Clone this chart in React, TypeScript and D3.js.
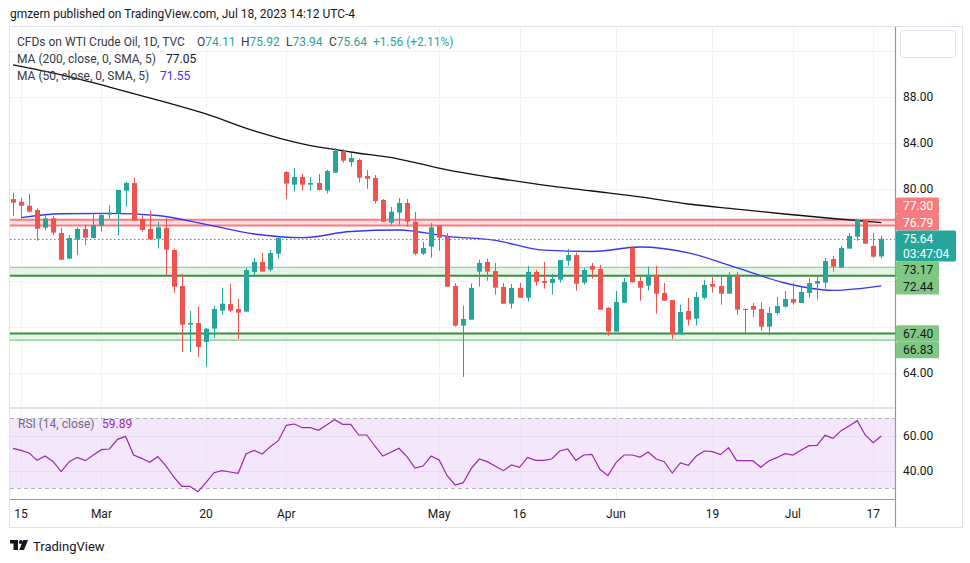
import React from "react";
import * as d3 from "d3";

// ---------- data ----------
const opens = [79.10,78.87,78.52,78.15,76.61,77.42,76.15,73.92,75.57,76.50,75.71,76.79,77.74,77.86,79.83,80.50,77.36,76.50,75.65,76.58,74.67,71.54,68.18,68.32,66.67,67.83,69.40,69.97,69.54,69.31,72.76,73.63,72.96,74.35,81.45,80.35,81.02,80.35,80.50,79.83,81.39,83.28,82.32,82.50,81.10,80.93,79.02,77.05,77.92,78.76,77.13,74.35,74.96,76.81,75.83,71.54,68.09,68.61,72.79,73.63,72.84,71.45,70.00,71.37,70.52,72.76,71.97,71.80,72.09,73.74,74.23,71.83,73.28,73.02,69.63,67.57,70.09,74.84,71.97,71.57,72.52,70.93,70.32,67.34,69.37,68.70,70.52,71.71,71.54,70.87,72.52,69.45,69.80,69.54,68.00,69.19,69.74,70.41,70.06,70.93,71.74,71.83,73.89,73.13,74.79,75.83,77.28,75.02,74.11];
const highs = [79.65,79.22,79.54,78.29,77.80,77.63,76.58,75.97,76.64,76.84,77.86,77.86,78.58,79.89,80.61,80.96,77.71,78.06,77.13,77.45,74.81,72.58,69.37,69.74,67.89,69.83,71.39,71.74,70.41,73.13,73.97,74.41,74.67,75.71,81.54,81.80,81.28,81.02,81.28,81.63,83.54,83.45,83.08,82.61,81.63,81.19,79.10,78.41,79.19,79.10,77.97,75.36,77.01,76.81,76.15,71.80,69.83,71.77,73.83,73.92,73.54,71.80,71.71,71.80,73.28,72.93,73.63,72.58,73.80,74.76,74.44,73.11,73.54,73.37,69.71,71.10,72.23,75.02,72.32,73.22,73.28,71.80,70.32,69.91,70.50,71.02,72.06,72.32,72.32,72.76,72.76,69.60,70.06,70.15,69.71,70.58,71.10,71.80,71.45,72.23,72.32,73.97,74.15,75.02,76.15,77.36,77.36,76.15,75.92];
const lows = [77.63,77.57,77.95,75.48,76.41,75.97,73.80,73.90,74.23,75.10,75.68,76.26,77.42,75.97,78.44,77.20,76.26,75.55,74.81,72.44,70.96,65.80,65.80,65.37,64.50,67.02,69.02,69.28,66.93,69.31,72.35,72.79,72.79,73.92,79.10,79.74,79.83,79.83,79.83,79.57,81.39,82.26,81.92,80.52,80.00,78.70,77.13,76.87,76.87,76.70,74.23,74.23,74.00,74.61,71.48,68.00,63.63,68.61,71.48,72.00,70.79,70.00,69.57,70.52,70.18,71.57,71.31,70.79,71.83,73.31,71.13,71.66,72.18,69.48,67.22,67.57,70.09,71.83,70.26,71.13,69.13,70.26,66.93,67.34,68.09,68.09,70.35,70.96,69.91,70.87,69.05,67.45,68.87,67.66,67.25,69.05,69.66,69.91,70.06,70.52,70.35,71.31,72.79,73.13,74.79,75.48,75.22,74.00,73.94];
const closes = [78.79,78.52,78.00,76.52,77.42,76.18,73.83,75.71,76.50,75.74,76.84,77.71,77.92,79.89,80.50,77.22,76.41,75.57,76.64,74.70,71.48,68.18,68.32,66.24,67.83,69.54,70.00,69.40,69.22,72.93,73.63,72.79,74.41,75.71,80.44,81.02,80.35,80.50,79.89,81.54,83.28,82.44,82.67,80.96,80.87,78.93,77.13,78.00,78.76,77.13,74.35,74.84,76.64,75.74,71.48,68.09,68.67,71.37,73.54,72.79,71.39,70.00,71.37,70.52,72.76,71.91,71.80,72.15,73.80,74.23,71.74,72.93,72.96,69.48,67.57,70.15,71.89,71.86,71.39,72.52,70.87,70.26,67.34,69.28,68.61,70.58,71.63,71.48,70.87,72.41,69.48,69.54,69.48,68.00,69.19,69.80,70.41,70.09,71.02,71.80,71.97,73.71,73.22,74.84,75.89,77.28,75.22,74.09,75.64];

const ma200Idx = [0,6,12,18,24,30,36,42,48,54,60,66,72,78,84,90,96,102,108];
const ma200Vals = [90.76,89.89,88.84,87.71,86.50,85.02,83.89,83.19,82.58,81.63,80.93,80.32,79.80,79.28,78.67,78.23,77.80,77.41,77.05];
const ma50Idx = [1,6,12,18,24,30,36,42,48,54,60,66,72,78,84,90,96,102,108];
const ma50Vals = [77.48,77.82,77.86,77.67,76.90,76.06,75.74,76.28,76.41,75.86,75.50,74.65,74.54,74.93,74.42,73.14,71.80,71.16,71.55];

const rsiVals = [52.80,51.65,50.11,45.90,48.39,45.13,39.39,45.13,47.62,45.71,48.96,52.03,52.41,57.97,59.69,48.96,47.05,44.75,48.01,42.83,36.32,30.96,30.96,27.89,33.06,38.81,39.96,39.19,38.43,49.73,51.65,49.54,53.75,57.20,66.01,66.78,64.67,64.67,63.14,66.21,69.27,66.59,66.59,60.46,60.46,54.14,48.39,50.50,52.80,48.01,41.49,42.64,48.39,46.09,37.09,31.72,33.06,41.30,46.67,45.13,42.45,39.96,43.22,41.88,47.62,45.90,45.90,46.67,51.26,52.41,45.90,48.96,49.35,40.73,37.09,44.56,48.96,48.96,47.81,50.69,46.67,45.13,38.62,44.37,43.03,48.39,51.26,50.88,49.16,53.18,45.71,45.71,45.71,41.88,45.52,47.43,49.73,48.96,51.65,54.33,54.52,60.27,58.54,62.95,65.63,68.70,60.46,56.05,59.89];

const xTickIdx = [1, 11, 24, 34, 53, 63, 75, 87, 97, 107];
const xTickLabels = ["15", "Mar", "20", "Apr", "May", "16", "Jun", "19", "Jul", "17"];
const priceTicks = [64, 68, 72, 76, 80, 84, 88, 92];
const rsiGridTicks = [60, 40];
const rsiBandTicks = [70, 30];

const levelValues = [77.30, 76.79, 73.17, 72.44, 67.40, 66.83];
const levelKinds = ["red", "red", "greenLight", "greenDark", "greenDark", "greenLight"];
const lastPrice = 75.64;
const countdown = "03:47:04";

// ---------- layout ----------
const W = 970, H = 563;
const FL = 10, FT = 26, FR = 962, FB = 527; // frame
const AX = 895; // price-axis separator
const MAIN_T = 27, MAIN_B = 406;
const RSI_T = 409, RSI_B = 499;
const FONT = "Roboto, 'Liberation Sans', Arial, sans-serif";
const BOX = { x: 900.5, y: 30.5, w: 55, h: 27 };

const TEAL = "#26a69a", RED = "#ef5350";

export default function App() {
  const x = d3.scaleLinear().domain([0, 108]).range([13, 881.3]);
  const y = d3.scaleLinear().domain([64, 88]).range([372.7, 96.7]);
  const yr = d3.scaleLinear().domain([30, 70]).range([488, 418.4]);

  const ma200Line = d3.line<number>().x((_, i) => x(ma200Idx[i])).y((d) => y(d)).curve(d3.curveMonotoneX)(ma200Vals) || "";
  const ma50Line = d3.line<number>().x((_, i) => x(ma50Idx[i])).y((d) => y(d)).curve(d3.curveMonotoneX)(ma50Vals) || "";
  const rsiLine = d3.line<number>().x((_, i) => x(i)).y((d) => yr(d))(rsiVals) || "";

  // ---- axis label layout: last price fixed, others pushed away ----
  const LH = 16.5, TH = 31;
  type Lab = { v: number; kind: string; text: string; h: number; top: number };
  const labs: Lab[] = levelValues.map((v, i) => ({ v, kind: levelKinds[i], text: v.toFixed(2), h: LH, top: y(v) - LH / 2 }));
  labs.push({ v: lastPrice, kind: "last", text: lastPrice.toFixed(2), h: TH, top: y(lastPrice) - LH / 2 });
  labs.sort((a, b) => b.v - a.v);
  const ai = labs.findIndex((l) => l.kind === "last");
  for (let i = ai + 1; i < labs.length; i++) {
    const prevB = labs[i - 1].top + labs[i - 1].h;
    labs[i].top = Math.max(labs[i].top, prevB);
  }
  for (let i = ai - 1; i >= 0; i--) {
    const nextT = labs[i + 1].top;
    labs[i].top = Math.min(labs[i].top, nextT - labs[i].h);
  }
  // tick labels hidden behind level labels / the corner box are not drawn
  const visibleTicks = priceTicks.filter((t) => {
    const ty = y(t);
    if (ty - 6 < BOX.y + BOX.h) return false;
    return !labs.some((l) => ty + 6 > l.top && ty - 6 < l.top + l.h);
  });

  const crisp = (v: number) => Math.round(v) + 0.5;

  const bandRect = (a: number, b: number, fill: string) => (
    <rect x={FL} width={AX - FL} y={y(a)} height={y(b) - y(a)} fill={fill} />
  );
  const levelStroke: Record<string, [string, number]> = {
    red: ["#f77c80", 2],
    greenLight: ["#81c784", 1.2],
    greenDark: ["#388e3c", 2],
  };

  return (
    <svg width={W} height={H} style={{ position: "absolute", left: 0, top: 0, background: "#fff" }} fontFamily={FONT}>
      <defs>
        <clipPath id="mainClip"><rect x={FL} y={MAIN_T} width={AX - FL} height={MAIN_B - MAIN_T} /></clipPath>
        <clipPath id="rsiClip"><rect x={FL} y={RSI_T} width={AX - FL} height={RSI_B - RSI_T} /></clipPath>
      </defs>
      <rect x={0} y={0} width={W} height={H} fill="#fff" />

      {/* header */}
      <text x={10} y={18} fontSize={12} fill="#131722">gmzern published on TradingView.com, Jul 18, 2023 14:12 UTC-4</text>

      {/* grid */}
      {priceTicks.map((t) => (
        <line key={"hg" + t} x1={FL} x2={AX} y1={crisp(y(t))} y2={crisp(y(t))} stroke="#f0f3fa" />
      ))}
      {xTickIdx.map((t) => (
        <line key={"vg" + t} x1={crisp(x(t))} x2={crisp(x(t))} y1={FT} y2={RSI_B} stroke="#f0f3fa" />
      ))}

      {/* levels */}
      <g clipPath="url(#mainClip)">
        {bandRect(levelValues[0], levelValues[1], "#fde1e2")}
        {bandRect(levelValues[2], levelValues[3], "#e6f4e7")}
        {bandRect(levelValues[4], levelValues[5], "#e6f4e7")}
        {levelValues.map((v, i) => (
          <line key={"lv" + i} x1={FL} x2={AX} y1={y(v)} y2={y(v)} stroke={levelStroke[levelKinds[i]][0]} strokeWidth={levelStroke[levelKinds[i]][1]} />
        ))}
        {/* moving averages */}
        <path d={ma200Line} fill="none" stroke="#111" strokeWidth={1.3} />
        <path d={ma50Line} fill="none" stroke="#3535f2" strokeWidth={1.3} />
        {/* candles */}
        {opens.map((o, i) => {
          const c = closes[i];
          const up = c >= o;
          const col = up ? TEAL : RED;
          const cx = Math.round(x(i));
          const top = y(Math.max(o, c));
          const bot = y(Math.min(o, c));
          return (
            <g key={"c" + i}>
              <line x1={cx + 0.5} x2={cx + 0.5} y1={y(highs[i])} y2={y(lows[i])} stroke={col} strokeWidth={1} />
              <rect x={cx - 2} width={5} y={top} height={Math.max(1, bot - top)} fill={col} />
            </g>
          );
        })}
        {/* last price dotted line */}
        <line x1={FL} x2={AX} y1={crisp(y(lastPrice))} y2={crisp(y(lastPrice))} stroke={TEAL} strokeDasharray="1.5 2.5" />
      </g>

      {/* legends */}
      <g fontSize={12}>
        <text x={17} y={46} fill="#363a45">CFDs on WTI Crude Oil, 1D, TVC</text>
        {[["O", "74.11", 197], ["H", "75.92", 241], ["L", "73.94", 286], ["C", "75.64", 329]].map(([k, v, px]) => (
          <text key={k as string} x={px as number} y={46} fill="#363a45">{k}<tspan fill={TEAL}>{v}</tspan></text>
        ))}
        <text x={373} y={46} fill={TEAL}>+1.56 (+2.11%)</text>
        <text x={17} y={63} fill="#363a45">MA (200, close, 0, SMA, 5)</text>
        <text x={166} y={63} fill="#131722">77.05</text>
        <text x={17} y={80} fill="#363a45">MA (50, close, 0, SMA, 5)</text>
        <text x={160} y={80} fill="#3535f2">71.55</text>
      </g>

      {/* RSI pane */}
      <line x1={FL} x2={AX} y1={408} y2={408} stroke="#e0e3eb" strokeWidth={2} />
      <rect x={FL} width={AX - FL} y={yr(70)} height={yr(30) - yr(70)} fill="#f4e6fb" />
      {rsiGridTicks.map((t) => (
        <line key={"rg" + t} x1={FL} x2={AX} y1={crisp(yr(t))} y2={crisp(yr(t))} stroke="#e6dcf0" />
      ))}
      {xTickIdx.map((t) => (
        <line key={"rvg" + t} x1={crisp(x(t))} x2={crisp(x(t))} y1={yr(70)} y2={yr(30)} stroke="#ece2f6" />
      ))}
      {rsiBandTicks.map((t) => (
        <line key={"rb" + t} x1={FL} x2={AX} y1={crisp(yr(t))} y2={crisp(yr(t))} stroke="#b2b5be" strokeDasharray="4 3" />
      ))}
      <g clipPath="url(#rsiClip)">
        <path d={rsiLine} fill="none" stroke="#9c27b0" strokeWidth={1.2} />
      </g>
      <text x={18} y={428} fontSize={12} fill="#6a6d78">RSI (14, close)</text>
      <text x={102} y={428} fontSize={12} fill="#9c27b0">59.89</text>

      {/* axes lines */}
      <line x1={FL} x2={AX} y1={499.5} y2={499.5} stroke="#9598a1" />
      <line x1={AX + 0.5} x2={AX + 0.5} y1={FT} y2={FB} stroke="#9598a1" strokeWidth={1.2} />
      <rect x={FL - 0.5} y={FT + 0.5} width={FR - FL + 1} height={FB - FT} fill="none" stroke="#e0e3eb" />

      {/* x labels */}
      {xTickIdx.map((t, i) => (
        <text key={"xl" + t} x={x(t)} y={518} fontSize={12} textAnchor="middle" fill="#131722">{xTickLabels[i]}</text>
      ))}

      {/* price axis labels */}
      {visibleTicks.map((t) => (
        <text key={"pl" + t} x={903} y={y(t)} dy="0.35em" fontSize={12} fill="#131722">{t.toFixed(2)}</text>
      ))}
      {rsiGridTicks.map((t) => (
        <text key={"rl" + t} x={903} y={yr(t)} dy="0.35em" fontSize={12} fill="#131722">{t.toFixed(2)}</text>
      ))}

      {/* top-right box */}
      <rect x={BOX.x} y={BOX.y} width={BOX.w} height={BOX.h} rx={3} fill="#fff" stroke="#e0e3eb" />

      {/* level labels */}
      {labs.map((l, i) => {
        const bg = l.kind === "red" ? "#f77c80" : l.kind === "last" ? TEAL : "#81c784";
        const fg = l.kind === "red" || l.kind === "last" ? "#fff" : "#131722";
        const w = l.kind === "last" ? 60 : 43;
        return (
          <g key={"lb" + i}>
            <rect x={896} y={l.top} width={w} height={l.h} fill={bg} rx={1.5} />
            <text x={903} y={l.top + LH / 2} dy="0.36em" fontSize={12} fill={fg}>{l.text}</text>
            {l.kind === "last" && (
              <text x={903} y={l.top + LH / 2 + 15} dy="0.36em" fontSize={12} fill={fg}>{countdown}</text>
            )}
          </g>
        );
      })}

      {/* footer logo */}
      <g fill="#131722">
        <rect x={10} y={540} width={8} height={3.5} />
        <rect x={13.5} y={540} width={4.5} height={10} />
        <circle cx={20.8} cy={542} r={1.9} />
        <path d="M23.2,540 L28,540 L24,550 L19.2,550 Z" />
      </g>
      <text x={33} y={551} fontSize={13} fill="#131722">TradingView</text>
    </svg>
  );
}
